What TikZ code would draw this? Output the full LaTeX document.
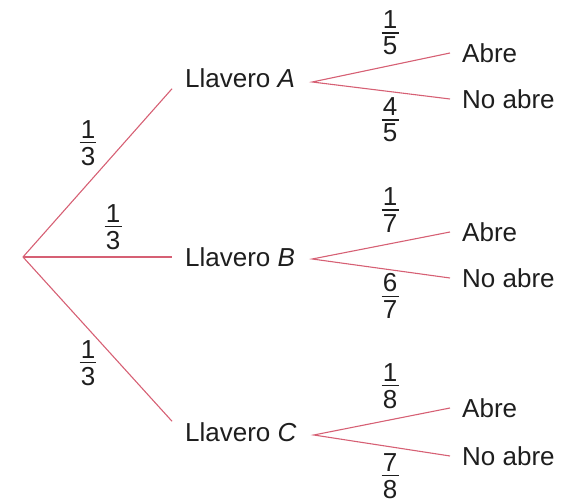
\documentclass[tikz,border=0pt]{standalone}
\usepackage{fontspec}
\setmainfont{Liberation Sans}
\definecolor{branch}{RGB}{214,96,116}
\definecolor{ink}{RGB}{30,30,30}
\newcommand{\fracbox}[2]{\vbox{\hbox to 17pt{\hss#1\hss}\kern3.5pt\hrule height 1.3pt\kern3.5pt\hbox to 17pt{\hss#2\hss}}}
\begin{document}
\begin{tikzpicture}[x=1pt,y=-1pt,
  every node/.style={text=ink,font=\fontsize{26}{30}\selectfont},
  mid/.style={anchor=west,inner xsep=13pt,inner ysep=1pt},
  leaf/.style={anchor=west,inner xsep=12pt,inner ysep=0pt},
  prob/.style={inner sep=0pt},
  br/.style={draw=branch,line width=1.1pt}]
\useasboundingbox (0,0) rectangle (563,502);
\coordinate (R) at (23,257);
\node[mid] (LA) at (172,78) {Llavero \textit{A}};
\node[mid] (LB) at (172,257) {Llavero \textit{B}};
\node[mid] (LC) at (172,432) {Llavero \textit{C}};
\coordinate (LAr) at ([xshift=4pt,yshift=-4pt]LA.east);
\coordinate (LBr) at ([xshift=4pt,yshift=-2pt]LB.east);
\coordinate (LCr) at ([xshift=4pt,yshift=-3pt]LC.east);
\node[leaf] (A1) at (450,53) {Abre};
\node[leaf] (A2) at (450,99) {No abre};
\node[leaf] (B1) at (450,232) {Abre};
\node[leaf] (B2) at (450,278) {No abre};
\node[leaf] (C1) at (450,408) {Abre};
\node[leaf] (C2) at (450,456) {No abre};
\draw[br] (R) -- (LA.south west);
\draw[br] (R) -- (LB.west);
\draw[br] (R) -- (LC.north west);
\draw[br] (A1.west) -- (LAr) -- (A2.west);
\draw[br] (B1.west) -- (LBr) -- (B2.west);
\draw[br] (C1.west) -- (LCr) -- (C2.west);
\node[prob] (p1) at (88,143) {\fracbox{1}{3}};
\node[prob] (p2) at (113,227) {\fracbox{1}{3}};
\node[prob] (p3) at (88,363) {\fracbox{1}{3}};
\node[prob] (pa1) at (390,33) {\fracbox{1}{5}};
\node[prob] (pa2) at (390,120) {\fracbox{4}{5}};
\node[prob] (pb1) at (390,210) {\fracbox{1}{7}};
\node[prob] (pb2) at (390,296) {\fracbox{6}{7}};
\node[prob] (pc1) at (390,386) {\fracbox{1}{8}};
\node[prob] (pc2) at (390,476) {\fracbox{7}{8}};
\end{tikzpicture}
\end{document}
